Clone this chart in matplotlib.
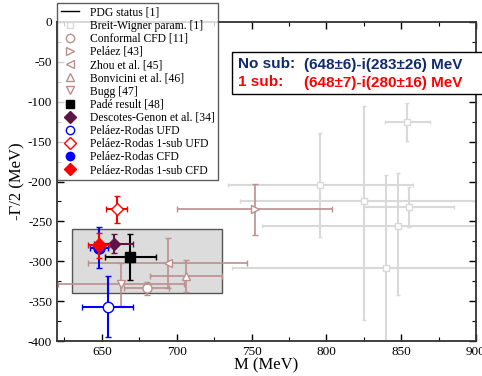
import matplotlib
matplotlib.use("Agg")
import matplotlib.pyplot as plt
from matplotlib.patches import Rectangle
from matplotlib.lines import Line2D
from matplotlib.ticker import MultipleLocator

plt.rcParams['font.family'] = ['Liberation Serif', 'DejaVu Serif']
plt.rcParams['axes.unicode_minus'] = False

# ---------------- data ----------------
# Breit-Wigner parametrizations (gray)
bw_m = [854, 796, 825, 855, 848, 840]
bw_m_err = [15, 62, 83, 30, 91, 103]
bw_g = [-125, -204, -224, -232, -256, -308]
bw_g_err_lo = [24, 65, 150, 25, 86, 116]
bw_g_err_hi = [24, 65, 119, 25, 67, 116]

# other determinations
det_labels = ["Conformal CFD [11]", "Peláez [43]", "Zhou et al. [45]",
              "Bonvicini et al. [46]", "Bugg [47]", "Padé result [48]",
              "Descotes-Genon et al. [34]", "Peláez-Rodas UFD",
              "Peláez-Rodas 1-sub UFD", "Peláez-Rodas CFD",
              "Peláez-Rodas 1-sub CFD"]
det_m = [680, 752, 694, 706, 663, 669, 658, 654, 660, 648, 648]
det_m_err = [15, 52, 53, 24, 42, 17, 13, 17, 7, 6, 7]
det_g = [-334, -235, -302, -319, -329, -295, -278, -357, -235, -283, -280]
det_g_err = [8, 32, 31, 20, 27, 29, 12, 38, 17, 26, 16]
det_marker = ["o", ">", "<", "^", "v", "s", "D", "o", "D", "o", "D"]
det_color = ["#bc8f8f", "#bc8f8f", "#bc8f8f", "#bc8f8f", "#bc8f8f", "black",
             "#5e1446", "#0000ff", "#ff0000", "#0000ff", "#ff0000"]
det_filled = [False, False, False, False, False, True, True, False, False, True, True]
det_ms = [6.5, 6, 6, 6, 6, 7, 6.5, 7.5, 6, 8, 7.5]

# PDG status box
pdg_m = (630, 730)
pdg_g = (-340, -260)

xticks = [650, 700, 750, 800, 850, 900]
yticks = [0, -50, -100, -150, -200, -250, -300, -350, -400]

# ---------------- figure ----------------
fig = plt.figure(figsize=(4.82, 3.76), dpi=100)
ax = fig.add_axes([57/482, 1-341/376, 419/482, 319/376])
ax.set_xlim(620, 900)
ax.set_ylim(-400, 0)

ax.add_patch(Rectangle((pdg_m[0], pdg_g[0]), pdg_m[1]-pdg_m[0], pdg_g[1]-pdg_g[0],
                       facecolor="#dcdcdc", edgecolor="#555555", lw=1.0, zorder=1))

gray = "#d9d9d9"
ax.errorbar(bw_m, bw_g, xerr=bw_m_err, yerr=[bw_g_err_lo, bw_g_err_hi],
            fmt="s", ms=4.5, mfc="white", mec=gray, mew=1.0, ecolor=gray,
            elinewidth=1.5, capsize=1.5, capthick=1.0, zorder=2)

for i in range(len(det_m)):
    c = det_color[i]
    ax.errorbar(det_m[i], det_g[i], xerr=det_m_err[i], yerr=det_g_err[i],
                fmt=det_marker[i], ms=det_ms[i],
                mfc=c if det_filled[i] else "white", mec=c, mew=1.0,
                ecolor=c, elinewidth=1.5 if i >= 5 else 1.2,
                capsize=2, capthick=1.2, zorder=3 + i)

ax.set_xticks(xticks)
ax.set_yticks(yticks)
ax.xaxis.set_minor_locator(MultipleLocator(25))
ax.yaxis.set_minor_locator(MultipleLocator(25))
ax.tick_params(which="both", direction="in", top=True, right=True, labelsize=9.5)
ax.tick_params(which="major", length=5, width=1.0)
ax.tick_params(which="minor", length=3, width=0.8)
for s in ax.spines.values():
    s.set_linewidth(1.3)
    s.set_color("#333333")

ax.set_xlabel("M (MeV)", fontsize=12, labelpad=0)
ax.set_ylabel("-Γ/2 (MeV)", fontsize=12, labelpad=2)

# legend
handles = [Line2D([], [], color="black", lw=1.0),
           Line2D([], [], ls="none", marker="s", ms=4, mfc="white", mec=gray)]
for i in range(len(det_m)):
    c = det_color[i]
    handles.append(Line2D([], [], ls="none", marker=det_marker[i], ms=6,
                          mfc=c if det_filled[i] else "white", mec=c))
labels = ["PDG status [1]", "Breit-Wigner param. [1]"] + det_labels
leg = fig.legend(handles, labels, loc="upper left",
                 bbox_to_anchor=(57/482, 1-3/376), bbox_transform=fig.transFigure,
                 fontsize=8.4, frameon=True, fancybox=False, edgecolor="#333333",
                 borderaxespad=0, borderpad=0.3, labelspacing=0.1,
                 handlelength=1.6, handletextpad=0.9)
leg.get_frame().set_linewidth(1.0)
leg.set_zorder(20)

# result box
fig.patches.append(Rectangle((232/482, 1-94/376), 260/482, 42/376,
                             transform=fig.transFigure, facecolor="white",
                             edgecolor="black", lw=1.0, zorder=15))
navy = "#102a6e"
fs = 11
fig.text(238/482, 1-68.5/376, "No sub:", color=navy, fontsize=fs, va="baseline",
         fontweight="bold", family="Liberation Sans", zorder=16)
fig.text(304/482, 1-68.5/376, "(648±6)-i(283±26) MeV", color=navy, fontsize=fs,
         va="baseline", fontweight="bold", family="Liberation Sans", zorder=16)
fig.text(238/482, 1-86.5/376, "1 sub:", color="#ff0000", fontsize=fs, va="baseline",
         fontweight="bold", family="Liberation Sans", zorder=16)
fig.text(304/482, 1-86.5/376, "(648±7)-i(280±16) MeV", color="#ff0000", fontsize=fs,
         va="baseline", fontweight="bold", family="Liberation Sans", zorder=16)

fig.savefig("out.png", dpi=100)
